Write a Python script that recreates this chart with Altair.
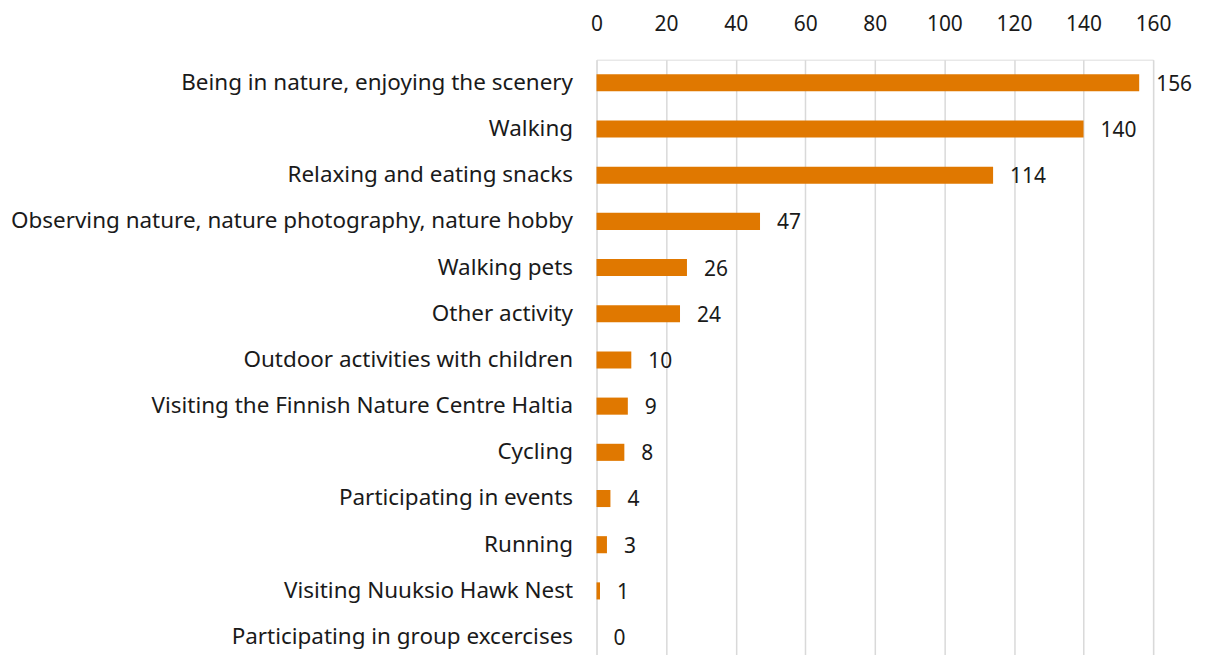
import altair as alt
import pandas as pd

activities = [
    "Being in nature, enjoying the scenery",
    "Walking",
    "Relaxing and eating snacks",
    "Observing nature, nature photography, nature hobby",
    "Walking pets",
    "Other activity",
    "Outdoor activities with children",
    "Visiting the Finnish Nature Centre Haltia ",
    "Cycling",
    "Participating in events",
    "Running",
    "Visiting Nuuksio Hawk Nest",
    "Participating in group excercises",
]
counts = [156, 140, 114, 47, 26, 24, 10, 9, 8, 4, 3, 1, 0]
x_ticks = [0, 20, 40, 60, 80, 100, 120, 140, 160]

df = pd.DataFrame({"activity": activities, "count": counts})

FONT = "Noto Sans"
TXT = "#1a1a1a"

y_enc = alt.Y(
    "activity:N",
    sort=activities,
    scale=alt.Scale(paddingInner=0.63, paddingOuter=0.315),
    axis=alt.Axis(
        title=None,
        labelFontSize=22.5,
        labelFont=FONT,
        labelColor=TXT,
        labelPadding=24,
        ticks=False,
        domain=False,
        grid=False,
        labelLimit=700,
    ),
)
x_enc = alt.X(
    "count:Q",
    scale=alt.Scale(domain=[0, 160], nice=False),
    axis=alt.Axis(
        orient="top",
        title=None,
        values=x_ticks,
        labelFontSize=21,
        labelFont=FONT,
        labelColor=TXT,
        labelPadding=25,
        labelFlush=False,
        ticks=False,
        domain=False,
        grid=True,
        gridColor="#d9d9d9",
        gridWidth=1.5,
    ),
)

bars = alt.Chart(df).mark_bar(color="#E07800").encode(x=x_enc, y=y_enc)
labels = alt.Chart(df).mark_text(
    align="left", baseline="middle", dx=17, dy=2, fontSize=21, font=FONT, color=TXT
).encode(x="count:Q", y=alt.Y("activity:N", sort=activities), text="count:Q")

chart = (
    (bars + labels)
    .properties(width=558, height=602, padding={"left": 2, "top": 5, "right": 5, "bottom": 5})
    .configure_view(strokeWidth=0, stroke="transparent")
    .configure(background="white")
)

chart.save("out.html", embed_options={"renderer": "svg", "actions": False})
